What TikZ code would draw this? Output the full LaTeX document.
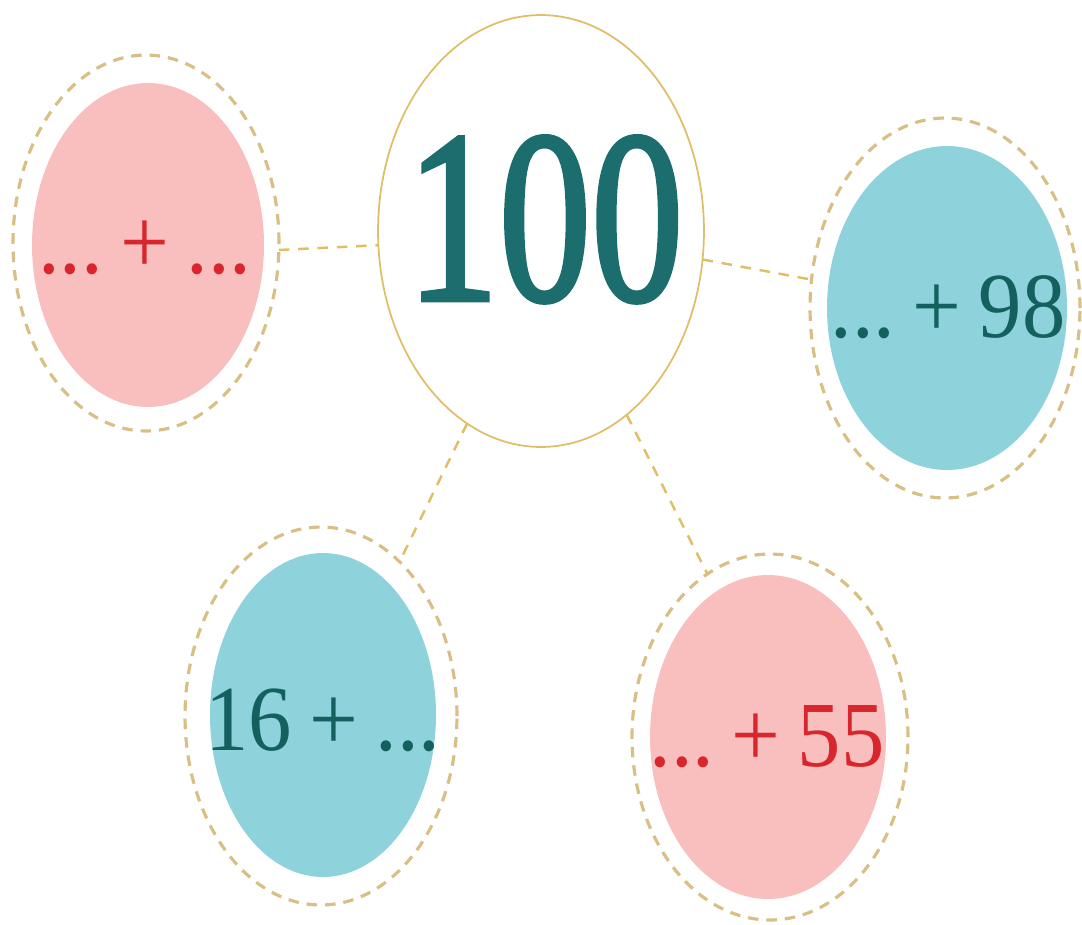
\documentclass[tikz,border=0pt]{standalone}
\usepackage{fontspec}
\setmainfont{Liberation Serif}
\newfontfamily\bigfont[FakeBold=2]{Liberation Serif}
\usetikzlibrary{shapes.geometric}
\definecolor{pinkfill}{HTML}{F9BEBE}
\definecolor{bluefill}{HTML}{8ED2DB}
\definecolor{redtxt}{HTML}{D9262C}
\definecolor{tealtxt}{HTML}{13605E}
\definecolor{bigteal}{HTML}{1B6E6D}
\definecolor{goldline}{HTML}{DEBE66}
\definecolor{ringcol}{HTML}{D8BF86}
\newcommand{\eqsp}{\hspace{0.2em}}
\newcommand{\sq}[1]{\scalebox{0.93}[1]{#1}}
\begin{document}
\begin{tikzpicture}[x=0.02cm,y=-0.02cm,
  disc/.style={ellipse, inner sep=0pt, outer sep=0pt, draw=none},
  pinkdisc/.style={disc, fill=pinkfill},
  bluedisc/.style={disc, fill=bluefill},
  ringshape/.style={ellipse, inner sep=0pt, outer sep=0pt, draw=ringcol, line width=1.8pt, dash pattern=on 6pt off 4.5pt},
  link/.style={draw=goldline, line width=1.4pt, dash pattern=on 6pt off 5pt},
  eqtext/.style={anchor=base, inner sep=0pt, font=\fontsize{53}{53}\selectfont},
]
\useasboundingbox (0,0) rectangle (1082,924);

% centre
\node[ellipse, draw=goldline, line width=1pt, inner sep=0pt, outer sep=0pt,
      minimum width=6.52cm, minimum height=8.64cm] (ctr) at (541,231) {};
\node[anchor=base, inner sep=0pt, text=bigteal] (hundred) at (545,300)
      {\scalebox{0.75}[1]{\fontsize{140}{140}\bigfont 100}};

% left (pink)
\node[ringshape, minimum width=5.32cm, minimum height=7.52cm] (ringL) at (146,243) {};
\node[pinkdisc, minimum width=4.64cm, minimum height=6.48cm] (discL) at (148,245) {};
\node[eqtext, text=redtxt] (txtL) at (145,273) {\sq{...\eqsp+\eqsp...}};

% right (blue)
\node[ringshape, minimum width=5.4cm, minimum height=7.6cm] (ringR) at (945,308) {};
\node[bluedisc, minimum width=4.8cm, minimum height=6.48cm] (discR) at (947,308) {};
\node[eqtext, text=tealtxt] (txtR) at (948,337) {\sq{...\eqsp+\eqsp98}};

% bottom left (blue)
\node[ringshape, minimum width=5.44cm, minimum height=7.56cm] (ringBL) at (321,716) {};
\node[bluedisc, minimum width=4.52cm, minimum height=6.48cm] (discBL) at (323,715) {};
\node[eqtext, text=tealtxt] (txtBL) at (323,750) {\sq{16\eqsp+\eqsp...}};

% bottom right (pink)
\node[ringshape, minimum width=5.52cm, minimum height=7.32cm] (ringBR) at (770,737) {};
\node[pinkdisc, minimum width=4.72cm, minimum height=6.48cm] (discBR) at (768,737) {};
\node[eqtext, text=redtxt] (txtBR) at (767,766) {\sq{...\eqsp+\eqsp55}};

% connectors
\draw[link] (ringL.-3.4) -- (ctr.185);
\draw[link] (ctr.-10.8) -- (ringR.168.5);
\draw[link] (ctr.249.7) -- (ringBL.63.1);
\draw[link] (ctr.-65.5) -- (ringBR.111.3);
\end{tikzpicture}
\end{document}
